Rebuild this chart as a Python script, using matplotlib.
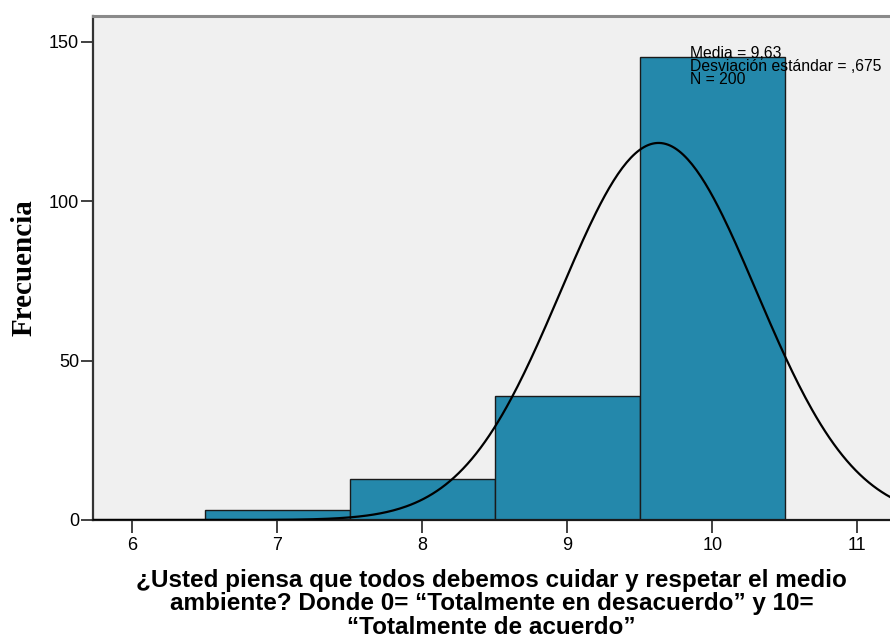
import numpy as np
import matplotlib.pyplot as plt

# Frecuencias por valor de respuesta
valores = [7, 8, 9, 10]
frecuencias = [3, 13, 39, 145]
media = 9.63
desviacion = 0.675
n_total = 200

x_ticks = [6, 7, 8, 9, 10, 11]
y_ticks = [0, 50, 100, 150]

fig = plt.figure(figsize=(8.9, 6.43), dpi=100)
ax = fig.add_axes([0.1045, 0.1913, 0.8955, 0.7843])
ax.set_facecolor('#F0F0F0')

ax.bar(valores, frecuencias, width=1.0, color='#2488AB', edgecolor='#1a1a1a',
       linewidth=1.0, zorder=2)

# Curva normal ajustada
xs = np.linspace(5.5, 11.5, 400)
ys = n_total * np.exp(-0.5 * ((xs - media) / desviacion) ** 2) / (desviacion * np.sqrt(2 * np.pi))
ax.plot(xs, ys, color='black', linewidth=1.6, zorder=3)

ax.set_xlim(5.73, 11.226)
ax.set_ylim(0, 158.1)
ax.set_xticks(x_ticks)
ax.set_yticks(y_ticks)
ax.tick_params(axis='both', direction='out', length=9, width=1.3, color='#333333',
               labelsize=13)
ax.tick_params(axis='y', pad=1)
ax.tick_params(axis='x', pad=3)
for lab in ax.get_xticklabels() + ax.get_yticklabels():
    lab.set_family('Liberation Sans')

ax.spines['right'].set_visible(False)
ax.spines['top'].set_color('#8a8a8a')
ax.spines['top'].set_linewidth(2.2)
ax.spines['left'].set_color('#333333')
ax.spines['left'].set_linewidth(1.6)
ax.spines['bottom'].set_color('#1a1a1a')
ax.spines['bottom'].set_linewidth(1.6)

ax.set_ylabel('Frecuencia', family='Liberation Serif', fontweight='bold',
              fontsize=21, labelpad=8)
ax.set_xlabel('¿Usted piensa que todos debemos cuidar y respetar el medio\n'
              'ambiente? Donde 0= “Totalmente en desacuerdo” y 10=\n'
              '“Totalmente de acuerdo”',
              family='Liberation Sans', fontweight='bold', fontsize=17.5,
              linespacing=1.03, labelpad=11)

ax.text(9.848, 148.5, 'Media = 9,63\nDesviación estándar = ,675\nN = ' + str(n_total),
        family='Liberation Sans', fontsize=11.3, linespacing=0.8, va='top', ha='left',
        zorder=4)

plt.savefig('out.png', dpi=100)
